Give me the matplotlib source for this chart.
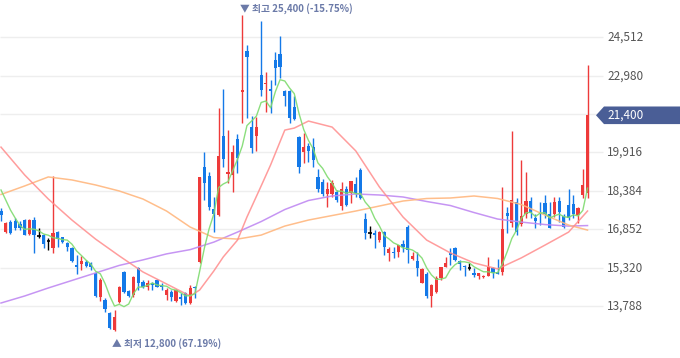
import numpy as np
import matplotlib.pyplot as plt
from matplotlib.patches import Polygon

plt.rcParams['font.family'] = ['Noto Sans CJK KR', 'DejaVu Sans']

# daily candles (oldest -> newest)
opens = [17590, 16740, 17140, 17200, 17080, 17220, 16660, 17210, 16580, 16640,
         16400, 16090, 16740, 16530, 16320, 16090, 15410, 15470, 15560, 15490,
         15120, 14160, 14030, 13520, 12850, 13960, 15160, 14400, 14230, 15300,
         14760, 14540, 14700, 14830, 14630, 14230, 14360, 14000, 14140, 14320,
         13900, 14560, 15530, 19330, 18980, 17650, 17420, 20570, 19060, 19020,
         20450, 22340, 23980, 20920, 20570, 23010, 22650, 22440, 23610, 23850,
         22370, 22370, 21740, 20520, 19950, 20180, 20140, 18950, 18750, 18240,
         18260, 18340, 17780, 18450, 18300, 18660, 19220, 17250, 16720, 16720,
         16420, 16760, 15890, 15960, 15960, 16260, 16950, 15650, 15600, 14710,
         15070, 14190, 14360, 14900, 15350, 15920, 16090, 15590, 15390, 15310,
         15110, 14990, 14940, 14990, 15300, 15160, 15160, 17490, 17090, 17950,
         17050, 17450, 17980, 17310, 17490, 17890, 17450, 17450, 17980, 17380,
         17820, 17850, 17420, 18220, 18290]
highs = [17690, 17140, 17220, 17300, 17180, 17260, 17260, 17350, 16900, 16660,
         16500, 18980, 16800, 16560, 16360, 16140, 15830, 15790, 15630, 15560,
         15160, 14910, 14100, 13550, 13630, 14590, 15190, 14430, 14990, 15340,
         14810, 14830, 14760, 14850, 14700, 14500, 14430, 14470, 14300, 14350,
         14630, 14590, 18940, 19950, 19150, 18150, 21680, 22440, 20810, 20210,
         20670, 25400, 24200, 21370, 21320, 25160, 23140, 22810, 23940, 24560,
         22410, 22410, 22170, 20570, 20710, 20290, 20480, 19250, 18850, 18750,
         18820, 18420, 18750, 18580, 18780, 18930, 19300, 17490, 17000, 16840,
         16800, 16780, 16140, 16140, 16240, 16420, 17020, 15960, 15930, 15300,
         15160, 14670, 14990, 15360, 15730, 16090, 16130, 15610, 15410, 15520,
         15310, 15110, 15030, 15730, 15340, 15650, 18550, 17750, 20770, 18100,
         19620, 19120, 18150, 17450, 17950, 18220, 17950, 18150, 18150, 17460,
         18460, 18220, 17750, 19260, 23410]
lows = [17190, 16700, 16660, 16840, 16820, 16620, 16640, 15910, 16500, 16100,
        16020, 15910, 16160, 16300, 16000, 15550, 15070, 15230, 15350, 15230,
        14150, 14000, 13560, 12870, 12800, 13920, 14320, 14150, 14160, 14430,
        14510, 14430, 14430, 14530, 14430, 14030, 14000, 13970, 13830, 13870,
        13870, 14100, 15510, 18020, 17620, 16760, 17380, 19330, 18710, 18350,
        19110, 21080, 21280, 19880, 19990, 22170, 21540, 21500, 22610, 22880,
        21770, 21090, 21210, 19110, 19480, 19550, 19350, 18350, 18180, 17750,
        18150, 17950, 17620, 17780, 17900, 18150, 18060, 16450, 16490, 16090,
        16360, 15830, 15600, 15710, 15750, 15950, 15510, 15630, 14990, 14700,
        14110, 13770, 14300, 14830, 15330, 15430, 15570, 15230, 14970, 15210,
        14940, 14860, 14910, 14970, 14900, 15050, 15030, 16690, 16940, 16620,
        16980, 17290, 17310, 16890, 17020, 17290, 16890, 17350, 17150, 16900,
        17220, 17290, 17090, 18090, 18090]
closes = [17420, 17110, 16700, 16900, 16890, 16640, 17220, 16620, 16580, 16260,
          16400, 16720, 16480, 16340, 16160, 15590, 15350, 15590, 15400, 15360,
          14190, 14830, 13660, 12900, 13360, 14540, 14360, 14190, 14940, 14700,
          14540, 14720, 14630, 14560, 14560, 14430, 14140, 14430, 14060, 13900,
          14500, 14500, 18930, 18690, 17730, 17460, 19780, 19640, 19150, 19950,
          19700, 22410, 23740, 20080, 20920, 22410, 22700, 22380, 23280, 23330,
          22150, 21310, 21250, 19330, 20120, 19980, 19620, 18450, 18240, 18450,
          18700, 18020, 18450, 17820, 18760, 18300, 18090, 16720, 16720, 16640,
          16760, 16160, 16070, 15920, 16220, 16160, 16020, 15790, 15300, 15250,
          14190, 14630, 14900, 15350, 15510, 15830, 15610, 15480, 15340, 15310,
          15040, 15100, 14990, 15340, 15100, 15070, 16850, 17390, 18020, 16760,
          17390, 17980, 17490, 17190, 17450, 17450, 16920, 17930, 17530, 16950,
          17290, 17450, 17710, 18620, 21400]
prev_closes = [19100, 18700, 18500, 18380]

# longer moving averages
ma20_idx = [0, 5, 10, 15, 20, 25, 30, 35, 40, 42, 45, 47, 50, 52, 55, 57, 60, 62,
            65, 70, 75, 80, 85, 90, 95, 100, 105, 110, 115, 120, 124]
ma20 = [20130, 19020, 18060, 17220, 16460, 15790, 15150, 14670, 14190, 14430,
        15190, 15750, 16420, 17340, 18580, 19420, 20810, 20890, 21170, 20930,
        19980, 18540, 17340, 16420, 15910, 15510, 15270, 15710, 16220, 16740, 17580]
ma_idx = [0, 5, 10, 15, 20, 25, 30, 35, 40, 45, 50, 55, 60, 65, 70, 75, 80, 85,
          90, 95, 100, 105, 110, 115, 120, 124]
ma60 = [18240, 18580, 18940, 18820, 18620, 18380, 18060, 17580, 16940, 16520,
        16460, 16620, 16980, 17220, 17400, 17580, 17780, 17980, 18080, 18100,
        18180, 18080, 17840, 17420, 17020, 16820]
ma120 = [13910, 14190, 14510, 14810, 15110, 15410, 15630, 15870, 16040, 16340,
         16740, 17160, 17640, 18000, 18180, 18260, 18220, 18140, 17960, 17800,
         17520, 17260, 17140, 17040, 16980, 17000]

grid_ticks = [24512, 22980, 21448, 19916, 18384, 16852, 15320, 13788]

RED = '#ee3a3a'
BLUE = '#1479e8'

o = np.array(opens)
h = np.array(highs)
l = np.array(lows)
c = np.array(closes)
x = np.arange(len(c))

fig = plt.figure(figsize=(6.8, 3.58), dpi=100)
ax = fig.add_axes([0, 0, 1, 1])
ax.set_xlim(-0.21, 143.55)
ax.set_ylim(11716, 26000)
ax.axis('off')

ytr = ax.get_yaxis_transform()
ax.hlines(grid_ticks, 0, 603 / 680, transform=ytr, color='#eeeeee', lw=1, zorder=0)
for t in grid_ticks:
    ax.text(607 / 680, t, f'{t:,}', transform=ytr, ha='left', va='center',
            fontsize=8.5, color='#555555')

cols = np.where(c > o, RED, np.where(c < o, BLUE, 'black'))
ax.vlines(x, l, h, colors=cols, lw=1, zorder=2)
body = np.maximum(np.abs(c - o), 40)
mask = c != o
ax.bar(x[mask], body[mask], bottom=np.minimum(o, c)[mask], width=0.68,
       color=cols[mask], zorder=2, linewidth=0)
ax.hlines(c[~mask], x[~mask] - 0.36, x[~mask] + 0.36, colors='black', lw=1.2, zorder=2)

# moving averages
full = np.concatenate([prev_closes, closes])
ma5 = np.convolve(full, np.ones(5) / 5, mode='valid')
ax.plot(ma_idx, ma120, color='#c08af2', lw=1.1, alpha=0.9, zorder=3)
ax.plot(ma_idx, ma60, color='#ffb77f', lw=1.1, alpha=0.9, zorder=3)
ax.plot(ma20_idx, ma20, color='#ff8c8c', lw=1.1, alpha=0.85, zorder=3)
ax.plot(x, ma5, color='#7fdb6f', lw=1.0, alpha=0.9, zorder=3)

# high / low markers
last = c[-1]
imax, imin = int(np.argmax(h)), int(np.argmin(l))
ax.annotate(f'▼ 최고 {h[imax]:,} ({(last / h[imax] - 1) * 100:.2f}%)',
            xy=(imax, h[imax]), xytext=(-1.5, 4.5), textcoords='offset points',
            ha='left', va='center', fontsize=7, color='#6b7aa8', fontweight='bold')
ax.annotate(f'▲ 최저 {l[imin]:,} ({(last / l[imin] - 1) * 100:.2f}%)',
            xy=(imin, l[imin]), xytext=(-1.5, -9), textcoords='offset points',
            ha='left', va='center', fontsize=7, color='#6b7aa8', fontweight='bold')

# last price tag
half = 8.8 * (26000 - 11716) / 358
tag = Polygon([(596 / 680, last), (604 / 680, last + half), (1.0, last + half),
               (1.0, last - half), (604 / 680, last - half)], closed=True,
              transform=ytr, facecolor='#4a5e96', edgecolor='none', zorder=5)
ax.add_patch(tag)
ax.text(607 / 680, last, f'{last:,}', transform=ytr, ha='left', va='center',
        fontsize=8.5, color='white', zorder=6)

fig.savefig('out.png', dpi=100)
